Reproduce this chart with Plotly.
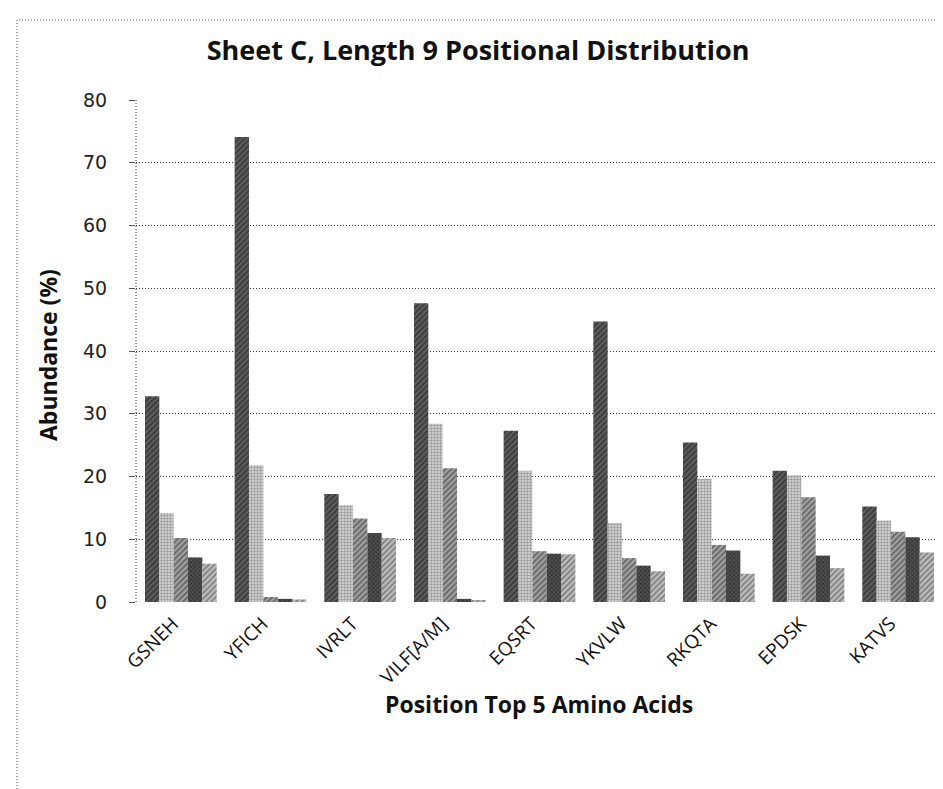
import plotly.graph_objects as go

categories = ["GSNEH", "YFICH", "IVRLT", "VILF[A/M]", "EQSRT", "YKVLW", "RKQTA", "EPDSK", "KATVS"]
rank1 = [32.8, 74.1, 17.2, 47.6, 27.3, 44.7, 25.4, 20.9, 15.2]
rank2 = [14.2, 21.8, 15.4, 28.4, 20.9, 12.6, 19.6, 20.2, 13.0]
rank3 = [10.2, 0.8, 13.3, 21.3, 8.1, 7.0, 9.1, 16.7, 11.2]
rank4 = [7.1, 0.5, 11.0, 0.5, 7.7, 5.8, 8.2, 7.4, 10.3]
rank5 = [6.1, 0.4, 10.2, 0.3, 7.6, 4.9, 4.5, 5.4, 7.9]
series_names = ["Rank 1", "Rank 2", "Rank 3", "Rank 4", "Rank 5"]
y_ticks = [0, 10, 20, 30, 40, 50, 60, 70, 80]

series = [rank1, rank2, rank3, rank4, rank5]
patterns = [
    dict(shape="/", bgcolor="#5e5e5e", fgcolor="#111111", size=4, solidity=0.45),
    dict(shape=".", bgcolor="#dcdcdc", fgcolor="#555555", size=3, solidity=0.5),
    dict(shape="/", bgcolor="#a0a0a0", fgcolor="#222222", size=4, solidity=0.4),
    dict(shape="x", bgcolor="#505050", fgcolor="#0a0a0a", size=3, solidity=0.45),
    dict(shape="/", bgcolor="#bdbdbd", fgcolor="#3a3a3a", size=4, solidity=0.4),
]

fig = go.Figure()
for name, vals, pat in zip(series_names, series, patterns):
    fig.add_trace(go.Bar(
        x=categories, y=vals, name=name, showlegend=False,
        marker=dict(color=pat["bgcolor"], pattern=pat, line=dict(width=0)),
    ))

fig.update_layout(
    width=943, height=789,
    margin=dict(l=128, r=8, t=92, b=195),
    paper_bgcolor="white", plot_bgcolor="white",
    barmode="group", bargap=0.2, bargroupgap=0.0,
    title=dict(text="<b>Sheet C, Length 9 Positional Distribution</b>",
               x=0.4985, xanchor="center", y=1 - 43 / 789, yanchor="middle",
               font=dict(family="Open Sans", size=27, color="#111111")),
    xaxis=dict(tickangle=-45, tickfont=dict(family="Open Sans", size=19, color="#111111"),
               showgrid=False, showline=False, ticks="",
               ticklabelstandoff=6, ticklabelshift=-8),
    yaxis=dict(range=[0, 80], tickvals=y_ticks, ticktext=[str(v) for v in y_ticks],
               tickfont=dict(family="DejaVu Sans", size=19, color="#222222"),
               showgrid=True, gridcolor="#333333", gridwidth=1, griddash="1px,2px",
               zeroline=False, showline=False, ticks="outside", ticklen=6,
               tickcolor="#555555", ticklabelstandoff=18),
    shapes=[
        dict(type="line", xref="paper", yref="paper", x0=0, x1=0, y0=0, y1=1,
             line=dict(color="#333333", width=1, dash="1px,2px")),
        dict(type="rect", xref="paper", yref="paper",
             x0=(9 - 128) / 807, x1=(960 - 128) / 807,
             y0=(594 - 810) / 502, y1=(594 - 12) / 502,
             line=dict(color="#555555", width=1, dash="1px,2px")),
    ],
    annotations=[
        dict(text="<b>Abundance (%)</b>", xref="paper", yref="paper",
             x=(40 - 128) / 807, y=(594 - 347) / 502, textangle=-90,
             showarrow=False, xanchor="center", yanchor="middle",
             font=dict(family="Open Sans", size=23, color="#111111")),
        dict(text="<b>Position Top 5 Amino Acids</b>", xref="paper", yref="paper",
             x=(531 - 128) / 807, y=(594 - 696) / 502,
             showarrow=False, xanchor="center", yanchor="middle",
             font=dict(family="Open Sans", size=23, color="#111111")),
    ],
)

fig.write_html("out.html")
